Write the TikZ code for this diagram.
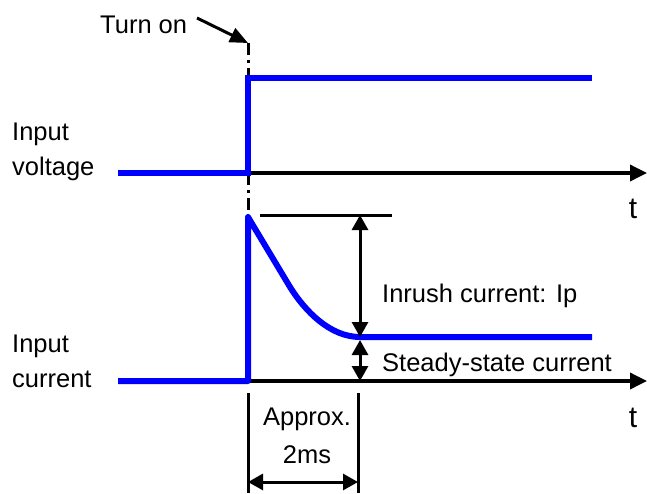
\documentclass[tikz,border=0pt]{standalone}
\usepackage{fontspec}
\setmainfont{Liberation Sans}
\usetikzlibrary{arrows.meta, positioning}

\begin{document}
\begin{tikzpicture}[x=1pt, y=-1pt,
    lbl/.style={font=\fontsize{25.5}{30}\selectfont, inner sep=0pt, anchor=base west},
    tlbl/.style={font=\fontsize{30}{34}\selectfont, inner sep=0pt, anchor=base},
    axis/.style={line width=3.5pt, -{Triangle[length=17pt, width=16pt]}},
    sig/.style={line width=6pt, blue},
    dim/.style={line width=3pt},
    dimarr/.style={line width=3pt, {Triangle[length=15pt, width=16pt]}-{Triangle[length=15pt, width=16pt]}},
    dashdot/.style={line width=3pt, dash pattern=on 12pt off 5pt on 3pt off 5pt}]
    \useasboundingbox (0,0) rectangle (647,493);
    % key points
    \coordinate (on) at (248,43);
    \coordinate (vlow) at (118,173);
    \coordinate (vstep) at (248,173);
    \coordinate (vhigh) at (248,78);
    \coordinate (vend) at (592,78);
    \coordinate (ilow) at (118,381);
    \coordinate (istep) at (248,381);
    \coordinate (ipeak) at (248,217);
    \coordinate (ibend) at (290,287);
    \coordinate (iss) at (360,337);
    \coordinate (iend) at (592,337);
    % texts
    \node[lbl] (turnon) at (100,33) {Turn on};
    \node[lbl] (vin1) at (12,140) {Input};
    \node[lbl] (vin2) at (12,175) {voltage};
    \node[lbl] (iin1) at (12,352) {Input};
    \node[lbl] (iin2) at (12,387) {current};
    \node[tlbl] (t1) at (633,218) {t};
    \node[tlbl] (t2) at (633,427) {t};
    \node[lbl] (inrush) at (382,302) {Inrush current: Ip};
    \node[lbl] (steady) at (382,371) {Steady-state current};
    \node[lbl, anchor=base] (approx) at (307,425) {Approx.};
    \node[lbl, anchor=base] (twoms) at (307,463) {2ms};
    % axes
    \coordinate (vax0) at (118,173);
    \coordinate (vax1) at (647,173);
    \coordinate (iax0) at (118,381);
    \coordinate (iax1) at (647,381);
    \draw[axis] (vax0) -- (vax1);
    \draw[axis] (iax0) -- (iax1);
    % turn on
    \coordinate (onstart) at (197,18);
    \draw[line width=3pt, -{Triangle[length=18pt, width=15pt]}] (onstart) -- (on);
    \draw[dashdot] (on) -- (vhigh);
    \draw[dashdot] (vstep) -- (ipeak);
    % signals
    \draw[sig] (vlow) -- (vstep) -- (vhigh) -- (vend);
    \draw[sig, line join=round] (ilow) -- (istep) -- (ipeak) -- (ibend)
        .. controls (305,311) and (330,337) .. (iss) -- (iend);
    % inrush dimension
    \coordinate (pk0) at (260,215);
    \coordinate (pk1) at (392,215);
    \coordinate (pkarr) at (360,215);
    \coordinate (ssarr) at (360,340);
    \coordinate (axarr) at (360,381);
    \draw[dim] (pk0) -- (pk1);
    \draw[dimarr] (pkarr) -- (iss);
    \draw[dimarr] (ssarr) -- (axarr);
    % 2ms dimension
    \coordinate (a0) at (248,393);
    \coordinate (a1) at (248,493);
    \coordinate (b0) at (358,393);
    \coordinate (b1) at (358,493);
    \coordinate (ta) at (248,482);
    \coordinate (tb) at (358,482);
    \draw[dim] (a0) -- (a1);
    \draw[dim] (b0) -- (b1);
    \draw[dimarr] (ta) -- (tb);
\end{tikzpicture}
\end{document}
